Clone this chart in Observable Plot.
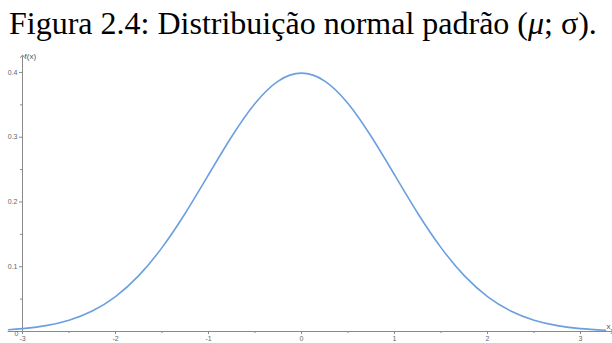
<!DOCTYPE html>
<html>
<head>
<meta charset="utf-8">
<script src="https://cdn.jsdelivr.net/npm/d3@7"></script>
<script src="https://cdn.jsdelivr.net/npm/@observablehq/plot@0.6"></script>
<style>
  html, body { margin: 0; padding: 0; background: #fff; }
  #title { font-family: "Liberation Serif", "Times New Roman", serif; font-size: 32px; line-height: 46px; height: 48px; padding-left: 9px; white-space: nowrap; color: #000; }
  #title i { font-style: italic; }
</style>
</head>
<body>
<div id="title">Figura 2.4: Distribuição normal padrão (<i>μ</i>; σ).</div>
<div id="chart"></div>
<script>
// Curve points (x, f(x))
const xs = [-3.15, -3, -2.75, -2.5, -2.25, -2, -1.75, -1.5, -1.25, -1, -0.75, -0.5, -0.25, 0, 0.25, 0.5, 0.75, 1, 1.25, 1.5, 1.75, 2, 2.25, 2.5, 2.75, 3, 3.27];
const fx = [0.0028, 0.0044, 0.0091, 0.0175, 0.0317, 0.054, 0.0863, 0.1295, 0.1826, 0.242, 0.3011, 0.3521, 0.3867, 0.3989, 0.3867, 0.3521, 0.3011, 0.242, 0.1826, 0.1295, 0.0863, 0.054, 0.0317, 0.0175, 0.0091, 0.0044, 0.0019];
const xTicks = [-3, -2, -1, 0, 1, 2, 3];
const xMinor = [-2.5, -1.5, -0.5, 0.5, 1.5, 2.5];
const yTicks = [0.1, 0.2, 0.3, 0.4];
const yMinor = [0.05, 0.15, 0.25, 0.35];

const data = xs.map((x, i) => ({x, y: fx[i]}));
const axisColor = "#8a8a8a";
const labelFont = "Liberation Sans, Arial, sans-serif";

const chart = Plot.plot({
  width: 612,
  height: 295,
  marginLeft: 22,
  marginRight: 32,
  marginTop: 0,
  marginBottom: 12,
  style: {fontFamily: labelFont, fontSize: "7px", color: "#666", background: "#fff"},
  x: {domain: [-3, 3], axis: null},
  y: {domain: [0, 0.437], axis: null},
  marks: [
    Plot.link([0], {x1: -3.16, x2: 3.34, y1: 0, y2: 0, stroke: axisColor, strokeWidth: 1, markerEnd: "arrow"}),
    Plot.link([0], {x1: -3, x2: -3, y1: -0.003, y2: 0.425, stroke: axisColor, strokeWidth: 1, markerEnd: "arrow"}),
    Plot.axisX({ticks: xTicks, tickSize: 3, tickPadding: 2, stroke: axisColor, fill: "#666", tickFormat: d => String(d).replace("−", "-"), label: null}),
    Plot.axisX({ticks: xMinor, tickSize: 2, stroke: axisColor, tickFormat: null, label: null, text: null}),
    Plot.axisY({ticks: yTicks, tickSize: 3, tickPadding: 2, stroke: axisColor, fill: "#666", tickFormat: d => d.toFixed(1), label: null}),
    Plot.axisY({ticks: yMinor, tickSize: 2, stroke: axisColor, label: null, text: null}),
    Plot.text(["f(x)"], {x: -3, y: 0.424, dx: 2, textAnchor: "start", fontSize: 8, fill: "#555"}),
    Plot.text(["x"], {x: 3.3, y: 0, dy: -5, textAnchor: "middle", fontSize: 8, fill: "#555"}),
    Plot.text(["0"], {x: -3, y: 0, dx: -6, dy: 2, textAnchor: "middle", fontSize: 7, fill: "#666"}),
    Plot.line(data, {x: "x", y: "y", curve: "natural", stroke: "#6b9fdf", strokeWidth: 1.6})
  ]
});
document.getElementById("chart").appendChild(chart);
</script>
</body>
</html>
